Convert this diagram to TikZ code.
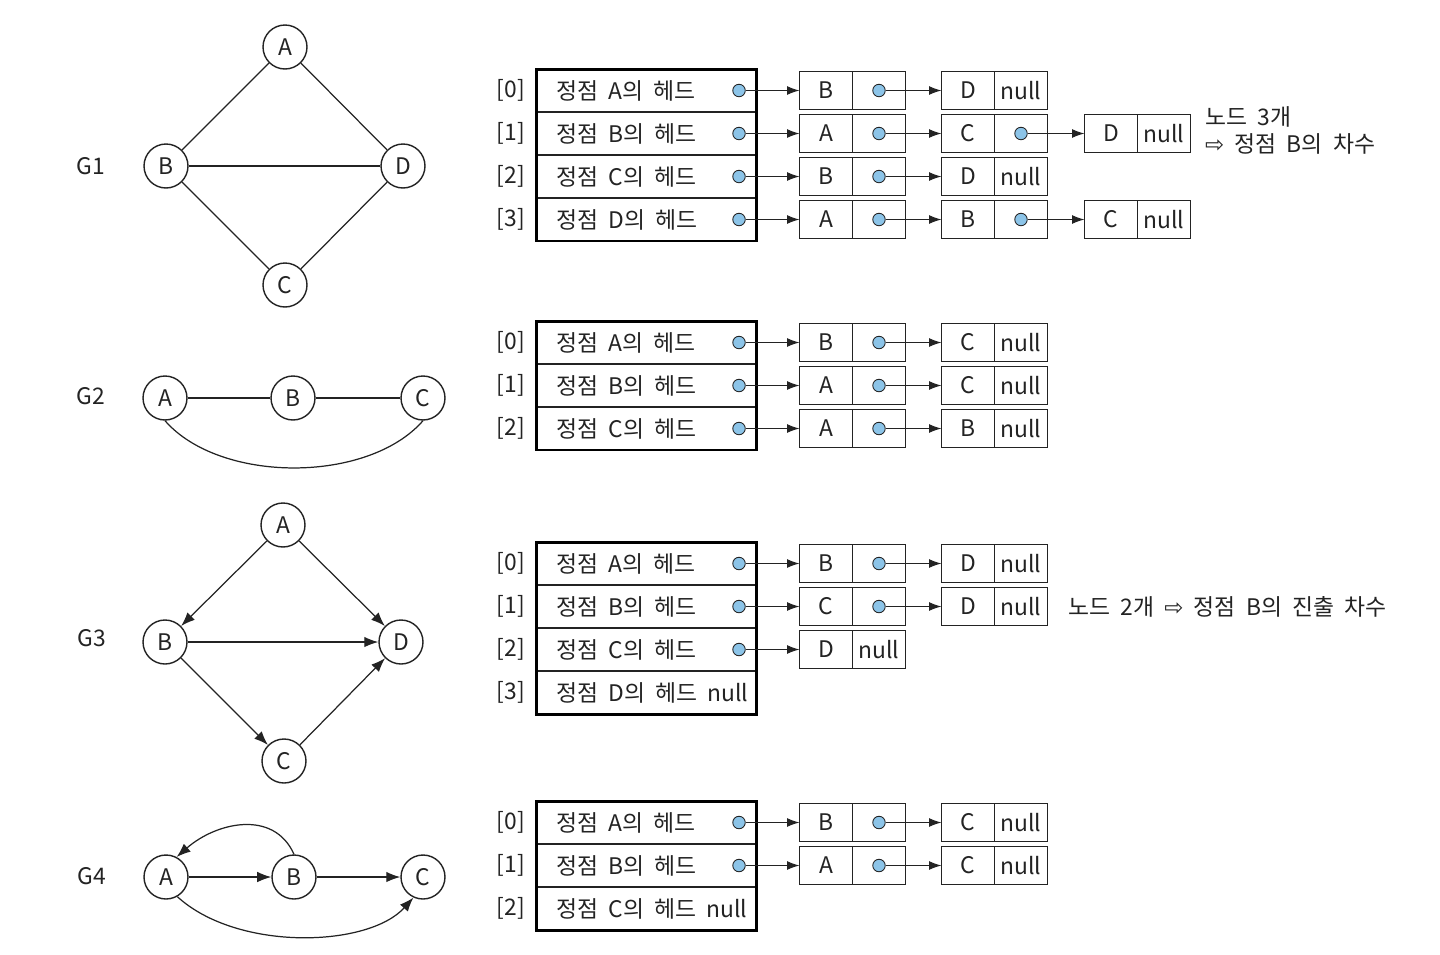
\documentclass[tikz,border=0pt]{standalone}
\usepackage{fontspec}
\setmainfont{Noto Sans CJK KR}[WordSpace=2]
\newfontfamily\arrowfont{DejaVu Sans}
\usetikzlibrary{arrows.meta, positioning}
\definecolor{ptrblue}{RGB}{140, 196, 232}
\definecolor{ink}{RGB}{35, 35, 35}

% one list node whose link field holds a pointer
\newcommand{\lnode}[4]{%
  \node[cell] (#1k) at (#2,#3) {#4};
  \node[cell, right=0pt of #1k] (#1p) {};
  \node[dot] (#1d) at (#1p) {};
}
% last list node of a chain
\newcommand{\lnull}[4]{%
  \node[cell] (#1k) at (#2,#3) {#4};
  \node[cell, right=0pt of #1k] (#1p) {null};
}

\begin{document}
\begin{tikzpicture}[
  x=0.02cm, y=-0.02cm,
  every node/.style={font=\fontsize{13}{15}\selectfont, text=ink},
  vtx/.style={circle, draw=ink, line width=0.8pt, minimum size=0.88cm, inner sep=0pt},
  edge/.style={draw=ink, line width=0.7pt},
  arc/.style={edge, -{Latex[length=8pt, width=6pt]}},
  headrow/.style={draw=ink, line width=0.6pt, minimum width=4.42cm, minimum height=0.86cm, inner sep=0pt, outer sep=0pt},
  frame/.style={draw=black, line width=1.7pt},
  cell/.style={draw=ink, line width=0.6pt, minimum width=1.06cm, minimum height=0.76cm, inner sep=0pt, outer sep=0pt},
  dot/.style={circle, draw=ink, line width=0.5pt, fill=ptrblue, minimum size=0.25cm, inner sep=0pt},
  ptr/.style={edge, line width=0.6pt, -{Latex[length=7pt, width=5pt]}}
]
  \useasboundingbox (0,0) rectangle (1440,954);

  % ---------- G1 ----------
  \node at (91,166) {G1};
  \node[vtx] (g1a) at (285,47) {A};
  \node[vtx] (g1b) at (166,166) {B};
  \node[vtx] (g1d) at (403,166) {D};
  \node[vtx] (g1c) at (285,285) {C};
  \draw[edge] (g1a) -- (g1b);
  \draw[edge] (g1a) -- (g1d);
  \draw[edge] (g1b) -- (g1d);
  \draw[edge] (g1b) -- (g1c);
  \draw[edge] (g1c) -- (g1d);

  % ---------- G2 ----------
  \node at (91,396) {G2};
  \node[vtx] (g2a) at (165,398) {A};
  \node[vtx] (g2b) at (293,398) {B};
  \node[vtx] (g2c) at (423,398) {C};
  \draw[edge] (g2a) -- (g2b);
  \draw[edge] (g2b) -- (g2c);
  \draw[edge] (g2a.south) .. controls +(55,63) and +(-55,63) .. (g2c.south);

  % ---------- G3 ----------
  \node at (92,638) {G3};
  \node[vtx] (g3a) at (283,525) {A};
  \node[vtx] (g3b) at (165,642) {B};
  \node[vtx] (g3d) at (401,642) {D};
  \node[vtx] (g3c) at (284,761) {C};
  \draw[arc] (g3a) -- (g3b);
  \draw[arc] (g3a) -- (g3d);
  \draw[arc] (g3b) -- (g3d);
  \draw[arc] (g3b) -- (g3c);
  \draw[arc] (g3c) -- (g3d);

  % ---------- G4 ----------
  \node at (92,876) {G4};
  \node[vtx] (g4a) at (166,877) {A};
  \node[vtx] (g4b) at (294,877) {B};
  \node[vtx] (g4c) at (423,877) {C};
  \draw[arc] (g4a) -- (g4b);
  \draw[arc] (g4b) -- (g4c);
  \draw[arc] (g4b.north) .. controls +(-20,-45) and +(40,-35) .. (g4a.62);
  \draw[arc] (g4a.-60) .. controls +(60,55) and +(-45,50) .. (g4c.-115);

  % ---------- head table of G1 ----------
  \foreach \i/\vn in {0/A,1/B,2/C,3/D} {
    \node[headrow] (t1r\i) at (646.5,90.5+43*\i) {};
    \node at (511,90.5+43*\i) {[\i]};
    \node[anchor=west] (t1x\i) at (550,90.5+43*\i) {정점 \vn{}의 헤드};
    \node[dot] (t1d\i) at (739,90.5+43*\i) {};
  }
  \draw[frame] (t1r0.north west) rectangle (t1r3.south east);

  \lnode{l100}{826}{90.5}{B}  \lnull{l101}{968}{90.5}{D}
  \lnode{l110}{826}{133.5}{A} \lnode{l111}{968}{133.5}{C} \lnull{l112}{1111}{133.5}{D}
  \lnode{l120}{826}{176.5}{B} \lnull{l121}{968}{176.5}{D}
  \lnode{l130}{826}{219.5}{A} \lnode{l131}{968}{219.5}{B} \lnull{l132}{1111}{219.5}{C}
  \draw[ptr] (t1d0) -- (l100k);  \draw[ptr] (l100d) -- (l101k);
  \draw[ptr] (t1d1) -- (l110k);  \draw[ptr] (l110d) -- (l111k);  \draw[ptr] (l111d) -- (l112k);
  \draw[ptr] (t1d2) -- (l120k);  \draw[ptr] (l120d) -- (l121k);
  \draw[ptr] (t1d3) -- (l130k);  \draw[ptr] (l130d) -- (l131k);  \draw[ptr] (l131d) -- (l132k);

  \node[anchor=west] (n1a) at (1199,117) {노드 3개};
  \node[anchor=west] (n1b) at (1199,144) {{\arrowfont ⇨} 정점 B의 차수};

  % ---------- head table of G2 ----------
  \foreach \i/\vn in {0/A,1/B,2/C} {
    \node[headrow] (t2r\i) at (646.5,342.5+43*\i) {};
    \node at (511,342.5+43*\i) {[\i]};
    \node[anchor=west] (t2x\i) at (550,342.5+43*\i) {정점 \vn{}의 헤드};
    \node[dot] (t2d\i) at (739,342.5+43*\i) {};
  }
  \draw[frame] (t2r0.north west) rectangle (t2r2.south east);

  \lnode{l200}{826}{342.5}{B} \lnull{l201}{968}{342.5}{C}
  \lnode{l210}{826}{385.5}{A} \lnull{l211}{968}{385.5}{C}
  \lnode{l220}{826}{428.5}{A} \lnull{l221}{968}{428.5}{B}
  \draw[ptr] (t2d0) -- (l200k);  \draw[ptr] (l200d) -- (l201k);
  \draw[ptr] (t2d1) -- (l210k);  \draw[ptr] (l210d) -- (l211k);
  \draw[ptr] (t2d2) -- (l220k);  \draw[ptr] (l220d) -- (l221k);

  % ---------- head table of G3 ----------
  \foreach \i/\vn in {0/A,1/B,2/C} {
    \node[headrow] (t3r\i) at (646.5,563.5+43*\i) {};
    \node at (511,563.5+43*\i) {[\i]};
    \node[anchor=west] (t3x\i) at (550,563.5+43*\i) {정점 \vn{}의 헤드};
    \node[dot] (t3d\i) at (739,563.5+43*\i) {};
  }
  \node[headrow] (t3r3) at (646.5,692.5) {};
  \node at (511,692.5) {[3]};
  \node[anchor=west] (t3x3) at (550,692.5) {정점 D의 헤드 null};
  \draw[frame] (t3r0.north west) rectangle (t3r3.south east);

  \lnode{l300}{826}{563.5}{B} \lnull{l301}{968}{563.5}{D}
  \lnode{l310}{826}{606.5}{C} \lnull{l311}{968}{606.5}{D}
  \lnull{l320}{826}{649.5}{D}
  \draw[ptr] (t3d0) -- (l300k);  \draw[ptr] (l300d) -- (l301k);
  \draw[ptr] (t3d1) -- (l310k);  \draw[ptr] (l310d) -- (l311k);
  \draw[ptr] (t3d2) -- (l320k);

  \node[anchor=west] (n3) at (1062,607) {노드 2개 {\arrowfont ⇨} 정점 B의 진출 차수};

  % ---------- head table of G4 ----------
  \foreach \i/\vn in {0/A,1/B} {
    \node[headrow] (t4r\i) at (646.5,822.5+43*\i) {};
    \node at (511,822.5+43*\i) {[\i]};
    \node[anchor=west] (t4x\i) at (550,822.5+43*\i) {정점 \vn{}의 헤드};
    \node[dot] (t4d\i) at (739,822.5+43*\i) {};
  }
  \node[headrow] (t4r2) at (646.5,908.5) {};
  \node at (511,908.5) {[2]};
  \node[anchor=west] (t4x2) at (550,908.5) {정점 C의 헤드 null};
  \draw[frame] (t4r0.north west) rectangle (t4r2.south east);

  \lnode{l400}{826}{822.5}{B} \lnull{l401}{968}{822.5}{C}
  \lnode{l410}{826}{865.5}{A} \lnull{l411}{968}{865.5}{C}
  \draw[ptr] (t4d0) -- (l400k);  \draw[ptr] (l400d) -- (l401k);
  \draw[ptr] (t4d1) -- (l410k);  \draw[ptr] (l410d) -- (l411k);
\end{tikzpicture}
\end{document}
